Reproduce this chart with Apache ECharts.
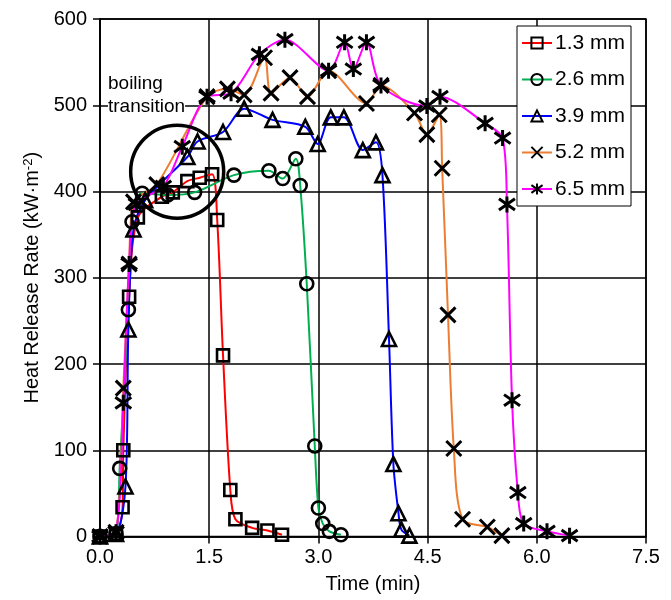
<!DOCTYPE html>
<html>
<head>
<meta charset="utf-8">
<script src="https://cdn.jsdelivr.net/npm/echarts@6/dist/echarts.min.js"></script>
<style>
  html, body { margin: 0; padding: 0; background: #fff; }
  #chart { width: 671px; height: 600px; }
</style>
</head>
<body>
<div id="chart"></div>
<script>
// values: time (min) and heat release rate (kW/m2)
const seriesNames = ['1.3 mm', '2.6 mm', '3.9 mm', '5.2 mm', '6.5 mm'];

const time13 = [0, 0.22, 0.31, 0.32, 0.40, 0.52, 0.85, 1.00, 1.20, 1.37, 1.54, 1.61, 1.69, 1.79, 1.86, 2.09, 2.30, 2.50];
const hrr13  = [0, 3, 34, 100, 278, 370, 394, 399, 412, 416, 420, 367, 210, 54, 20, 10, 7, 2];

const time26 = [0, 0.22, 0.27, 0.39, 0.44, 0.58, 0.93, 1.30, 1.84, 2.32, 2.51, 2.69, 2.75, 2.84, 2.95, 3.00, 3.06, 3.15, 3.31];
const hrr26  = [0, 3, 79, 263, 365, 398, 396, 399, 419, 424, 415, 438, 407, 293, 105, 33, 15, 6, 2];

const time39 = [0, 0.22, 0.35, 0.39, 0.46, 0.62, 1.20, 1.34, 1.69, 1.98, 2.37, 2.82, 2.99, 3.17, 3.35, 3.61, 3.79, 3.88, 3.97, 4.03, 4.10, 4.14, 4.25];
const hrr39  = [0, 3, 58, 240, 356, 390, 440, 458, 469, 496, 483, 475, 455, 486, 486, 448, 457, 419, 229, 84, 27, 8, 1];

const time52 = [0, 0.22, 0.32, 0.40, 0.46, 0.78, 1.47, 1.75, 1.98, 2.26, 2.35, 2.61, 2.85, 3.14, 3.66, 3.86, 4.32, 4.49, 4.66, 4.70, 4.78, 4.86, 4.98, 5.32, 5.52];
const hrr52  = [0, 5, 172, 316, 388, 408, 510, 519, 512, 555, 514, 532, 510, 540, 502, 523, 491, 466, 489, 427, 257, 102, 20, 11, 1];

const time65 = [0, 0.22, 0.32, 0.40, 0.50, 0.87, 1.13, 1.47, 1.80, 2.19, 2.54, 3.14, 3.36, 3.48, 3.66, 3.86, 4.49, 4.67, 5.29, 5.53, 5.59, 5.66, 5.74, 5.82, 6.14, 6.45];
const hrr65  = [0, 5, 155, 316, 385, 406, 452, 510, 514, 559, 576, 540, 573, 542, 573, 523, 499, 510, 479, 462, 385, 158, 51, 15, 6, 1];

const xTicks = [0, 1.5, 3.0, 4.5, 6.0, 7.5];
const yTicks = [0, 100, 200, 300, 400, 500, 600];

// the "boiling transition" ring, in data units
const ringCentre = [1.06, 423];

const lineColors = ['#ff0000', '#00b050', '#0000ff', '#ed7d31', '#ff00ff'];
const markers = [
  'rect', 'circle', 'triangle',
  'path://M0,0L10,10M10,0L0,10',
  'path://M1.5,1.5L8.5,8.5M8.5,1.5L1.5,8.5M5,0L5,10'
];
const markerSizes = [12, 13, 14, 15, 16];
const markerStroke = [2.6, 2.6, 2.6, 3, 3];

const allTimes = [time13, time26, time39, time52, time65];
const allHrr = [hrr13, hrr26, hrr39, hrr52, hrr65];

const font = 'Liberation Sans';

const chart = echarts.init(document.getElementById('chart'), null, { renderer: 'canvas' });

const lineSeries = seriesNames.map((name, i) => ({
  name: name,
  type: 'line',
  data: allTimes[i].map((t, k) => [t, allHrr[i][k]]),
  smooth: 0.3,
  symbol: markers[i],
  symbolSize: markerSizes[i],
  showAllSymbol: true,
  lineStyle: { color: lineColors[i], width: 2 },
  itemStyle: { color: 'rgba(0,0,0,0)', borderColor: '#000', borderWidth: markerStroke[i] },
  emphasis: { disabled: true },
  animation: false
}));

const option = {
  backgroundColor: '#fff',
  animation: false,
  textStyle: { fontFamily: font },
  grid: {
    left: 100, right: 25, top: 19, bottom: 63.5,
    show: true, borderColor: '#000', borderWidth: 1.5,
    outerBoundsMode: 'none'
  },
  legend: {
    orient: 'vertical',
    left: 517, top: 26,
    data: seriesNames,
    itemWidth: 30, itemHeight: 14,
    itemGap: 14.5,
    padding: [6, 6, 6, 4],
    backgroundColor: '#fff',
    borderColor: '#000', borderWidth: 1,
    textStyle: { fontFamily: font, fontSize: 21, color: '#000', lineHeight: 22, padding: [0, 0, 0, -2] }
  },
  xAxis: {
    type: 'value',
    min: xTicks[0], max: xTicks[xTicks.length - 1], interval: 1.5,
    name: 'Time (min)',
    nameLocation: 'middle',
    nameGap: 38,
    nameTextStyle: { fontFamily: font, fontSize: 20, color: '#000' },
    axisLine: { lineStyle: { color: '#000', width: 1.5 } },
    axisTick: { show: true, length: 7, lineStyle: { color: '#000', width: 1.5 } },
    axisLabel: { fontFamily: font, fontSize: 20, color: '#000', margin: 11, formatter: v => v.toFixed(1) },
    splitLine: { show: true, lineStyle: { color: '#000', width: 1.5 } }
  },
  yAxis: {
    type: 'value',
    min: yTicks[0], max: yTicks[yTicks.length - 1], interval: 100,
    name: 'Heat Release Rate (kW·m{sup|-2})',
    nameLocation: 'middle',
    nameGap: 57,
    nameTextStyle: {
      fontFamily: font, fontSize: 20, color: '#000',
      rich: { sup: { fontFamily: font, fontSize: 13, color: '#000', verticalAlign: 'top', padding: [0, 0, 8, 0] } }
    },
    axisLine: { lineStyle: { color: '#000', width: 1.5 } },
    axisTick: { show: true, length: 7, lineStyle: { color: '#000', width: 1.5 } },
    axisLabel: { fontFamily: font, fontSize: 20, color: '#000', margin: 13 },
    splitLine: { show: true, lineStyle: { color: '#000', width: 1.5 } }
  },
  graphic: [{
    type: 'text',
    left: 108, top: 72,
    z: 50,
    style: {
      text: 'boiling\ntransition',
      font: '19px "Liberation Sans"',
      fill: '#000',
      lineHeight: 23,
      backgroundColor: '#fff'
    }
  }],
  series: lineSeries.concat([{
    name: 'ring',
    type: 'scatter',
    data: [ringCentre],
    symbol: 'circle',
    symbolSize: 93,
    itemStyle: { color: 'rgba(0,0,0,0)', borderColor: '#000', borderWidth: 3.5, opacity: 1 },
    emphasis: { disabled: true },
    silent: true,
    z: 10
  }])
};

chart.setOption(option);
</script>
</body>
</html>
